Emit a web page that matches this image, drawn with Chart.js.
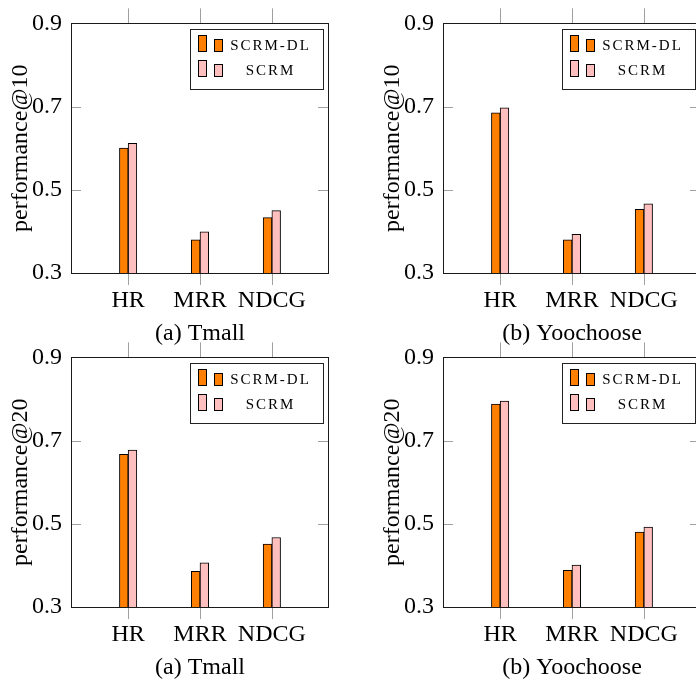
<!DOCTYPE html>
<html>
<head>
<meta charset="utf-8">
<script src="https://cdn.jsdelivr.net/npm/chart.js@4/dist/chart.umd.min.js"></script>
<style>
html, body { margin: 0; padding: 0; background: #fff; }
#wrap { position: relative; width: 696px; height: 680px; overflow: hidden; background: #fff; }
canvas { position: absolute; }
</style>
</head>
<body>
<div id="wrap">
  <canvas id="c0" width="372" height="350" style="left:0px;top:0px"></canvas>
  <canvas id="c1" width="372" height="350" style="left:372px;top:0px"></canvas>
  <canvas id="c2" width="372" height="350" style="left:0px;top:334px"></canvas>
  <canvas id="c3" width="372" height="350" style="left:372px;top:334px"></canvas>
</div>
<script>
// ---- data ----
const categories = ['HR', 'MRR', 'NDCG'];
const seriesNames = ['SCRM-DL', 'SCRM'];
const yTicks = [0.3, 0.5, 0.7, 0.9];

const tmall10_scrmdl = [0.600, 0.380, 0.433];
const tmall10_scrm   = [0.612, 0.399, 0.450];
const yoo10_scrmdl   = [0.685, 0.380, 0.453];
const yoo10_scrm     = [0.697, 0.393, 0.466];
const tmall20_scrmdl = [0.667, 0.386, 0.451];
const tmall20_scrm   = [0.677, 0.406, 0.467];
const yoo20_scrmdl   = [0.788, 0.388, 0.480];
const yoo20_scrm     = [0.795, 0.401, 0.492];

const yTitles = ['performance@10', 'performance@10', 'performance@20', 'performance@20'];
const captions = ['(a) Tmall', '(b) Yoochoose', '(a) Tmall', '(b) Yoochoose'];

// ---- style ----
const FONT = "'Liberation Serif', 'Times New Roman', serif";
const COLORS = ['#ff7f00', '#ffbfbf'];

const framePlugin = {
  id: 'frame',
  afterDraw(chart) {
    const { ctx, chartArea: a, scales } = chart;
    const x = scales.x, y = scales.y;
    ctx.save();
    ctx.lineWidth = 1;
    // tick marks
    ctx.strokeStyle = '#a0a0a0';
    ctx.beginPath();
    categories.forEach((c, i) => {
      const px = Math.round(x.getPixelForValue(i)) + 0.5;
      ctx.moveTo(px, a.top - 15); ctx.lineTo(px, a.top);
      ctx.moveTo(px, a.bottom); ctx.lineTo(px, a.bottom + 12);
    });
    yTicks.forEach(v => {
      const py = Math.round(y.getPixelForValue(v)) + 0.5;
      ctx.moveTo(a.left, py); ctx.lineTo(a.left + 10, py);
      ctx.moveTo(a.right - 11, py); ctx.lineTo(a.right, py);
    });
    ctx.stroke();
    // frame
    ctx.strokeStyle = '#1a1a1a';
    ctx.strokeRect(Math.round(a.left) + 0.5, Math.round(a.top) + 0.5,
                   Math.round(a.right - a.left) - 1, Math.round(a.bottom - a.top));
    // legend
    const lx = Math.round(a.left + 119) + 0.5, ly = Math.round(a.top + 5.7) + 0.5;
    const lw = 133, lh = 60;
    ctx.fillStyle = '#fff';
    ctx.fillRect(lx, ly, lw, lh);
    ctx.strokeStyle = '#222';
    ctx.strokeRect(lx, ly, lw, lh);
    chart.data.datasets.forEach((ds, k) => {
      const rowBottom = ly + 22 + k * 25;
      ctx.fillStyle = ds.backgroundColor;
      ctx.strokeStyle = '#000';
      ctx.fillRect(lx + 8, rowBottom - 16, 8, 16);
      ctx.strokeRect(lx + 8, rowBottom - 16, 8, 16);
      ctx.fillRect(lx + 24, rowBottom - 12, 8, 12);
      ctx.strokeRect(lx + 24, rowBottom - 12, 8, 12);
      ctx.fillStyle = '#000';
      ctx.font = "15px " + FONT;
      ctx.letterSpacing = '2px';
      ctx.textAlign = 'center';
      ctx.textBaseline = 'middle';
      ctx.fillText(ds.label, lx + 80, ly + 17 + k * 25);
    });
    ctx.restore();
  }
};

function makeChart(id, yTitle, caption, a, b) {
  const series = [a, b];
  return new Chart(document.getElementById(id), {
    type: 'bar',
    data: {
      datasets: series.map((vals, k) => ({
        label: seriesNames[k],
        data: vals.map((v, i) => ({ x: i, y: v })),
        backgroundColor: COLORS[k],
        borderColor: '#000',
        borderWidth: 1,
        borderSkipped: false,
        barThickness: 8.7
      }))
    },
    options: {
      responsive: false,
      animation: false,
      layout: { padding: { top: 15, right: 43, bottom: 0, left: 0 } },
      plugins: { legend: { display: false }, tooltip: { enabled: false } },
      scales: {
        x: {
          type: 'linear',
          offset: false,
          min: -0.795,
          max: 2.795,
          grid: { display: false, drawTicks: false },
          border: { display: false },
          afterBuildTicks: s => { s.ticks = categories.map((c, i) => ({ value: i })); },
          afterFit: s => { s.height = 77; },
          ticks: {
            callback: v => categories[v],
            padding: 13,
            autoSkip: false,
            maxRotation: 0,
            color: '#000',
            font: { family: FONT, size: 24 }
          },
          title: {
            display: true,
            text: caption,
            color: '#000',
            font: { family: FONT, size: 24 },
            padding: { top: 0, bottom: 2 }
          }
        },
        y: {
          min: 0.3,
          max: 0.9,
          grid: { display: false, drawTicks: false },
          border: { display: false },
          afterBuildTicks: s => { s.ticks = yTicks.map(v => ({ value: v })); },
          afterFit: s => { s.width = 71; },
          ticks: {
            callback: v => Number(v).toFixed(1),
            padding: 9,
            color: '#000',
            font: { family: FONT, size: 24 }
          },
          title: {
            display: true,
            text: yTitle,
            color: '#000',
            font: { family: FONT, size: 24 },
            padding: { top: 6, bottom: 0 }
          }
        }
      }
    },
    plugins: [framePlugin]
  });
}

makeChart('c0', yTitles[0], captions[0], tmall10_scrmdl, tmall10_scrm);
makeChart('c1', yTitles[1], captions[1], yoo10_scrmdl, yoo10_scrm);
makeChart('c2', yTitles[2], captions[2], tmall20_scrmdl, tmall20_scrm);
makeChart('c3', yTitles[3], captions[3], yoo20_scrmdl, yoo20_scrm);
</script>
</body>
</html>
